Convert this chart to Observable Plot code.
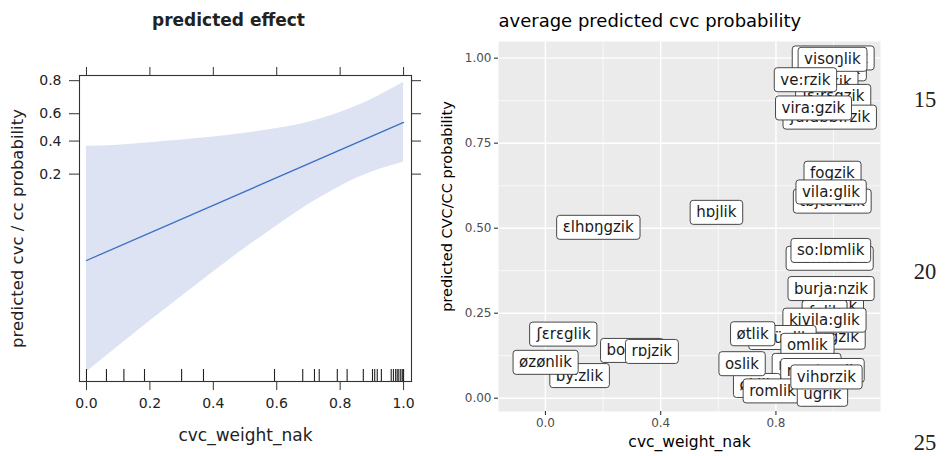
<!DOCTYPE html>
<html>
<head>
<meta charset="utf-8">
<script src="https://cdn.jsdelivr.net/npm/d3@7"></script>
<script src="https://cdn.jsdelivr.net/npm/@observablehq/plot@0.6"></script>
<style>
  html, body { margin: 0; padding: 0; background: #fff; }
  #page { position: relative; width: 948px; height: 456px; background: #fff; overflow: hidden; }
  #left { position: absolute; left: 0; top: 0; }
  #right { position: absolute; left: 440px; top: 0; }
  .lineno { position: absolute; left: 905px; width: 40px; text-align: center; font-family: "Liberation Serif", serif; font-size: 22.5px; color: #222; line-height: 1; }
</style>
</head>
<body>
<div id="page">
  <div id="left"></div>
  <div id="right"></div>
</div>
<script>
// ---------- left panel data ----------
const leftTitle = "predicted effect";
const leftXLabel = "cvc_weight_nak";
const leftYLabel = "predicted cvc / cc probability";
const leftXTicks = [0, 0.2, 0.4, 0.6, 0.8, 1.0];
const leftYTicks = [0.2, 0.4, 0.6, 0.8];
const fitX = [0, 1];
const fitP = [0.0189, 0.537];
const bandX = [0, 0.1, 0.2, 0.3, 0.4, 0.5, 0.6, 0.7, 0.8, 0.9, 1.0];
const bandLower = [0.0007, 0.0015, 0.0032, 0.0066, 0.0135, 0.027, 0.051, 0.092, 0.148, 0.210, 0.262];
const bandUpper = [0.363, 0.371, 0.388, 0.407, 0.429, 0.456, 0.491, 0.539, 0.609, 0.697, 0.792];
const rugX = [0, 0.063, 0.118, 0.183, 0.300, 0.369, 0.593, 0.682, 0.719, 0.734, 0.791, 0.822, 0.873,
              0.902, 0.909, 0.917, 0.930, 0.961, 0.968, 0.975, 0.980, 0.985, 0.991, 0.996, 1.0];

// ---------- right panel data ----------
const rightTitle = "average predicted cvc probability";
const rightXLabel = "cvc_weight_nak";
const rightYLabel = "predicted CVC/CC probability";
const rightXMajor = [0, 0.4, 0.8];
const rightXMinor = [-0.2, 0.2, 0.6, 1.0];
const rightYMajor = [0, 0.25, 0.5, 0.75, 1.0];
const rightYMinor = [0.125, 0.375, 0.625, 0.875];
const words = ["ʃɒmbozik", "ɟɛrɛŋlik", "lɛjkik", "ɟɛ:rɛgzik", "ʃu:dɒb:rzik", "visoŋlik", "ve:rzik", "vira:gzik",
  "tɒjtɛ:rzik", "fogzik", "vila:glik", "hɒjlik", "ɛlhɒŋgzik", "hɒma:rzik", "so:lɒmlik",
  "ʃɒrɒlik", "ʃɒlik", "burja:nzik", "ʃɒrgzik", "kivila:glik", "ɒdüglik", "øtlik", "omlik",
  "nɒrmlik", "mɒ:torzik", "øklik", "oslik", "romlik", "ugrik", "vihɒrzik",
  "ʃɛrɛglik", "bo:rzik", "rɒjzik", "by:zlik", "øzønlik"];
const wordX = [1.0, 1.0, 0.997, 1.0, 0.988, 0.996, 0.902, 0.930,
  0.995, 0.996, 0.991, 0.593, 0.183, 0.986, 0.990,
  1.0, 0.970, 0.991, 1.0, 0.968, 0.822, 0.719, 0.909,
  0.906, 0.961, 0.734, 0.682, 0.788, 0.961, 0.975,
  0.063, 0.300, 0.369, 0.118, 0.0];
const wordY = [1.0, 0.968, 0.929, 0.887, 0.826, 0.996, 0.936, 0.853,
  0.579, 0.661, 0.606, 0.546, 0.502, 0.411, 0.434,
  0.270, 0.252, 0.322, 0.179, 0.229, 0.178, 0.189, 0.155,
  0.096, 0.081, 0.037, 0.101, 0.021, 0.011, 0.062,
  0.188, 0.140, 0.137, 0.066, 0.105];
const lineNumbers = ["15", "20", "25"];

// ---------- helpers ----------
const logit = p => Math.log(p / (1 - p));
const expit = v => 1 / (1 + Math.exp(-v));
const font = "DejaVu Sans";

// ---------- left plot ----------
const band = bandX.map((x, i) => ({x, lo: bandLower[i], hi: bandUpper[i]}));
const fit = fitX.map((x, i) => ({x, p: fitP[i]}));

const left = Plot.plot({
  width: 440, height: 456,
  marginLeft: 79, marginRight: 29, marginTop: 75, marginBottom: 75,
  style: {fontFamily: font, fontSize: "14px", color: "#222", background: "transparent"},
  x: {domain: [-0.022, 1.025], label: null},
  y: {domain: [-7.54, 1.54], label: null},
  marks: [
    Plot.areaY(band, {x: "x", y1: d => logit(d.lo), y2: d => logit(d.hi), fill: "#dde3f3", curve: "natural"}),
    Plot.line(fit, {x: "x", y: d => logit(d.p), stroke: "#3b6fc6", strokeWidth: 1.3}),
    Plot.ruleX(rugX, {x: d => d, insetTop: 294, stroke: "#222", strokeWidth: 1.1}),
    Plot.frame({stroke: "#333", strokeWidth: 1.1}),
    Plot.axisX({ticks: leftXTicks, tickFormat: d3.format(".1f"), tickSize: 9, tickPadding: 8, fontSize: 14, label: null, stroke: "#333", fill: "#222"}),
    Plot.axisX({anchor: "top", ticks: leftXTicks, tickFormat: () => "", tickSize: 9, label: null, stroke: "#333"}),
    Plot.axisY(leftYTicks.map(logit), {tickFormat: d => d3.format(".1f")(expit(d)), tickSize: 10, tickPadding: 8, fontSize: 14, label: null, stroke: "#333", fill: "#222"}),
    Plot.axisY(leftYTicks.map(logit), {anchor: "right", tickFormat: () => "", tickSize: 9, label: null, stroke: "#333"}),
    Plot.text([leftTitle], {frameAnchor: "top", dy: -55, dx: -17, fontWeight: "bold", fontSize: 17, fill: "#222", lineAnchor: "middle"}),
    Plot.text([leftXLabel], {frameAnchor: "bottom", dy: 54, fontSize: 17, fill: "#222", lineAnchor: "middle"}),
    Plot.text([leftYLabel], {frameAnchor: "left", dx: -62, rotate: -90, textAnchor: "middle", fontSize: 16.5, fill: "#222", lineAnchor: "middle"})
  ]
});
document.getElementById("left").append(left);

// ---------- right plot ----------
const pts = words.map((w, i) => ({w, x: wordX[i], y: wordY[i]}));
const right = Plot.plot({
  width: 508, height: 456,
  marginLeft: 58, marginRight: 68, marginTop: 41, marginBottom: 45,
  style: {fontFamily: font, fontSize: "12px", color: "#1a1a1a", background: "transparent"},
  x: {domain: [-0.163, 1.163], label: null},
  y: {domain: [-0.039, 1.049], label: null},
  marks: [
    Plot.frame({fill: "#EBEBEB"}),
    Plot.gridX(rightXMinor, {stroke: "#fff", strokeOpacity: 1, strokeWidth: 0.7}),
    Plot.gridY(rightYMinor, {stroke: "#fff", strokeOpacity: 1, strokeWidth: 0.7}),
    Plot.gridX(rightXMajor, {stroke: "#fff", strokeOpacity: 1, strokeWidth: 1.4}),
    Plot.gridY(rightYMajor, {stroke: "#fff", strokeOpacity: 1, strokeWidth: 1.4}),
    Plot.axisX(rightXMajor, {tickFormat: d3.format(".1f"), tickSize: 4, tickPadding: 3, fontSize: 12, label: null, stroke: "#333", fill: "#4d4d4d", strokeWidth: 1.1}),
    Plot.axisY(rightYMajor, {tickFormat: d3.format(".2f"), tickSize: 4, tickPadding: 3, fontSize: 12, label: null, stroke: "#333", fill: "#4d4d4d", strokeWidth: 1.1}),
    Plot.text(pts, {x: "x", y: "y", text: "w", fontSize: 15, fill: "#1a1a1a", lineAnchor: "middle"}),
    Plot.text([rightTitle], {frameAnchor: "top-left", textAnchor: "start", dy: -20, fontSize: 18, fill: "#000", lineAnchor: "middle"}),
    Plot.text([rightXLabel], {frameAnchor: "bottom", dy: 31, fontSize: 15.5, fill: "#000", lineAnchor: "middle"}),
    Plot.text([rightYLabel], {frameAnchor: "left", dx: -51, dy: -20, rotate: -90, textAnchor: "middle", fontSize: 14.5, fill: "#000", lineAnchor: "middle"})
  ]
});
document.getElementById("right").append(right);

// label boxes (geom_label look): a rounded rect drawn behind each word, in data order
const NS = "http://www.w3.org/2000/svg";
const wordSet = new Set(words);
right.querySelectorAll("text").forEach(t => {
  if (!wordSet.has(t.textContent)) return;
  const b = t.getBBox();
  const r = document.createElementNS(NS, "rect");
  r.setAttribute("x", b.x - 6);
  r.setAttribute("y", b.y - 3);
  r.setAttribute("width", b.width + 12);
  r.setAttribute("height", b.height + 6);
  r.setAttribute("rx", 3);
  r.setAttribute("fill", "#fff");
  r.setAttribute("stroke", "#333");
  r.setAttribute("stroke-width", 0.9);
  const tr = t.getAttribute("transform");
  if (tr) r.setAttribute("transform", tr);
  t.parentNode.insertBefore(r, t);
});

// line numbers at right margin
const lineY = [100, 272, 443];
const page = document.getElementById("page");
lineNumbers.forEach((n, i) => {
  const d = document.createElement("div");
  d.className = "lineno";
  d.textContent = n;
  d.style.top = (lineY[i] - 11) + "px";
  page.append(d);
});
</script>
</body>
</html>
